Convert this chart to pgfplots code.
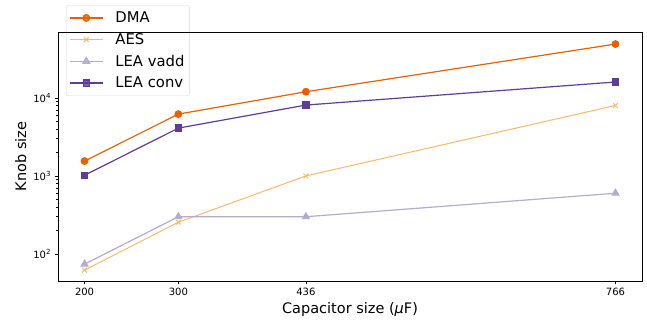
\documentclass[border=0pt]{standalone}
\usepackage{fontspec}
\setmainfont{DejaVu Sans}
\usepackage{pgfplots}
\pgfplotsset{compat=1.18}
\usetikzlibrary{calc}
\definecolor{cDMA}{HTML}{E66101}
\definecolor{cAES}{HTML}{FDB863}
\definecolor{cVadd}{HTML}{B2ABD2}
\definecolor{cConv}{HTML}{5E3C99}
\begin{document}
\begin{tikzpicture}
\begin{semilogyaxis}[
  name=ax,
  scale only axis, width=584pt, height=249pt,
  xmin=171.7, xmax=794.3, ymin=45, ymax=70000,
  xtick={200,300,436,766},
  ytick={100,1000,10000},
  yticklabels={10\textsuperscript{2},10\textsuperscript{3},10\textsuperscript{4}},
  tick align=outside, tick pos=left,
  major tick length=3.5pt, minor tick length=2pt,
  every tick/.style={black, line width=0.8pt},
  minor tick style={black, line width=0.6pt},
  axis line style={line width=0.8pt},
  xlabel={Capacitor size ({\itshape μ}F)},
  ylabel={Knob size},
  label style={font=\fontsize{14.5}{17}\selectfont},
  tick label style={font=\fontsize{10}{12}\selectfont},
  /pgf/number format/assume math mode=true,
  legend cell align=left,
  legend style={at={(0.0137,1.108)}, anchor=north west,
    draw=black!15, rounded corners=2pt, fill=white, fill opacity=0.8, text opacity=1,
    font=\fontsize{14.8}{17}\selectfont, row sep=5.2pt, column sep=10pt,
    inner xsep=3pt, inner ysep=4.5pt},
  legend image code/.code={\draw[mark repeat=2,mark phase=2] plot coordinates {(0pt,0pt) (16.5pt,0pt) (33pt,0pt)};},
  every axis plot/.append style={line width=1.2pt},
]
\addplot[cDMA, mark=*, mark size=3.3pt] coordinates {(200,1550) (300,6200) (436,12000) (766,49000)};
\addlegendentry{DMA}
\addplot[cAES, mark=x, mark size=3.3pt, line width=1pt] coordinates {(200,62) (300,255) (436,1000) (766,8000)};
\addlegendentry{AES}
\addplot[cVadd, mark=triangle*, mark size=3.8pt] coordinates {(200,74) (300,300) (436,300) (766,600)};
\addlegendentry{LEA vadd}
\addplot[cConv, mark=square*, mark size=3.1pt] coordinates {(200,1020) (300,4100) (436,8100) (766,16000)};
\addlegendentry{LEA conv}
\end{semilogyaxis}
\draw[line width=0.8pt] (ax.north west) -- (ax.north east);
\path ($(ax.south west)+(-58pt,-40pt)$) rectangle ($(ax.north east)+(5pt,32pt)$);
\end{tikzpicture}
\end{document}
